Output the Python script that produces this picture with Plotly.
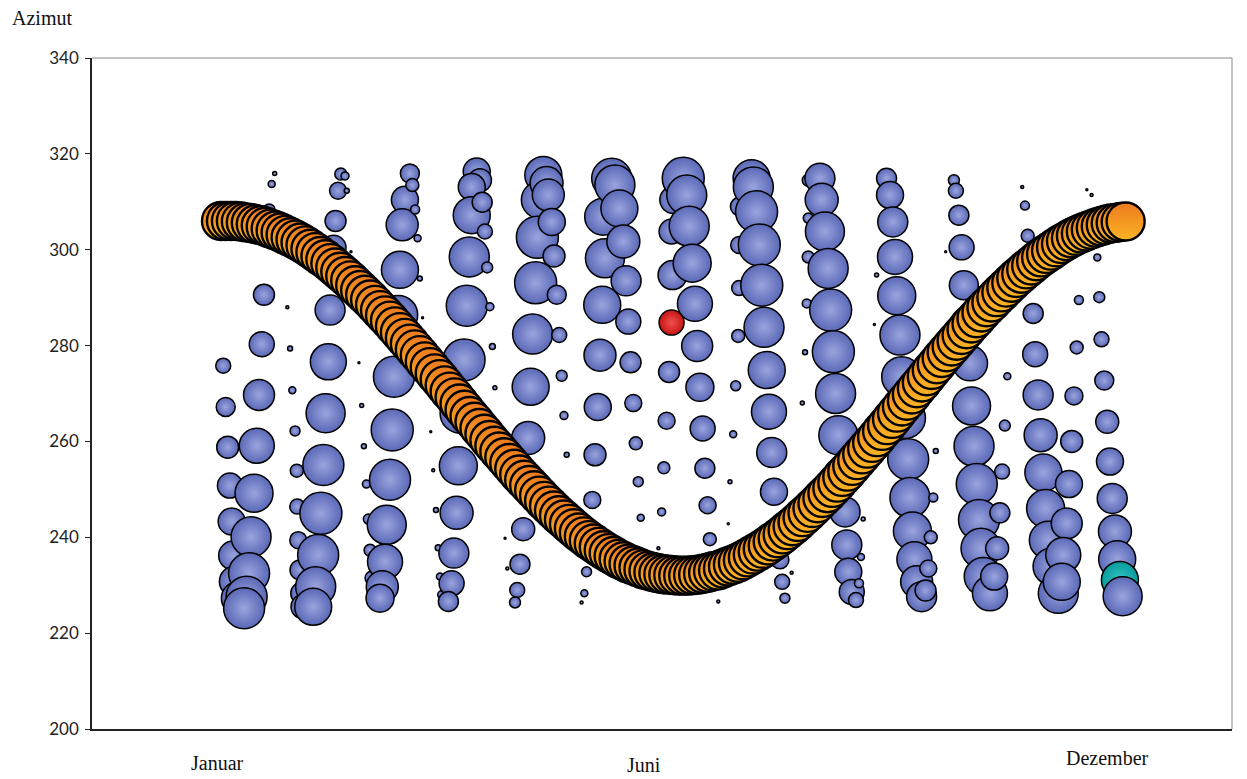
import plotly.graph_objects as go

# ---------------- Daten ----------------
# Sonnenbahn (orange), Azimut alle zwei Tage
bahn_tag = list(range(1, 366, 2))
bahn_azimut = [
    306.0, 306.0, 306.0, 306.0, 305.9, 305.7, 305.6, 305.3, 305.1, 304.8,
    304.4, 304.0, 303.6, 303.1, 302.6, 302.1, 301.5, 300.9, 300.2, 299.5,
    298.7, 298.0, 297.2, 296.3, 295.4, 294.5, 293.6, 292.6, 291.6, 290.6,
    289.6, 288.5, 287.4, 286.3, 285.2, 284.0, 282.8, 281.6, 280.4, 279.2,
    278.0, 276.7, 275.5, 274.2, 273.0, 271.7, 270.4, 269.2, 267.9, 266.6,
    265.3, 264.1, 262.8, 261.6, 260.3, 259.1, 257.9, 256.7, 255.5, 254.3,
    253.1, 252.0, 250.9, 249.8, 248.7, 247.6, 246.6, 245.6, 244.6, 243.7,
    242.8, 241.9, 241.0, 240.2, 239.4, 238.7, 238.0, 237.3, 236.7, 236.1,
    235.5, 235.0, 234.5, 234.1, 233.7, 233.3, 233.0, 232.7, 232.5, 232.3,
    232.2, 232.1, 232.0, 232.0, 232.0, 232.1, 232.2, 232.4, 232.6, 232.9,
    233.1, 233.5, 233.9, 234.3, 234.7, 235.2, 235.8, 236.4, 237.0, 237.6,
    238.3, 239.1, 239.8, 240.6, 241.5, 242.3, 243.2, 244.2, 245.1, 246.1,
    247.1, 248.2, 249.2, 250.3, 251.4, 252.6, 253.7, 254.9, 256.1, 257.3,
    258.5, 259.7, 260.9, 262.2, 263.4, 264.7, 266.0, 267.3, 268.5, 269.8,
    271.1, 272.3, 273.6, 274.9, 276.1, 277.4, 278.6, 279.8, 281.0, 282.2,
    283.4, 284.6, 285.7, 286.9, 288.0, 289.0, 290.1, 291.1, 292.1, 293.1,
    294.1, 295.0, 295.9, 296.7, 297.6, 298.4, 299.1, 299.8, 300.5, 301.2,
    301.8, 302.4, 302.9, 303.4, 303.8, 304.2, 304.6, 304.9, 305.2, 305.5,
    305.6, 305.8, 305.9,
]
bahn_wert = 38

# Blaue Blasen: (Tag, Azimut, Wert)
jan_a = [(1.9, 275.8, 15), (2.9, 267.2, 19), (3.7, 258.8, 22), (4.6, 250.8, 25),
         (5.3, 243.3, 27), (5.9, 236.2, 29), (6.6, 230.8, 31), (7.8, 227.3, 33)]
jan_b = [(22.6, 315.9, 4), (21.4, 313.7, 7), (20.4, 308.3, 12), (18.3, 290.6, 21),
         (17.4, 280.3, 25), (16.3, 269.7, 31), (15.4, 259.1, 35), (14.3, 249.2, 38),
         (13.1, 240.1, 40), (12.3, 232.5, 41), (11.3, 227.6, 41), (10.3, 225.2, 41)]
jan_c = [(27.7, 288.0, 3), (28.8, 279.4, 5), (29.7, 270.7, 7), (30.8, 262.2, 10),
         (31.5, 253.9, 13), (31.7, 246.4, 15), (32.1, 239.4, 17), (32.8, 233.2, 20),
         (33.5, 228.3, 22), (34.0, 225.5, 24)]
feb_a = [(49.2, 315.8, 12), (50.9, 315.4, 8), (48.1, 312.3, 17), (51.6, 312.3, 5),
         (47.1, 306.0, 21), (46.3, 300.4, 25), (44.9, 287.4, 30), (44.2, 276.6, 36),
         (43.1, 265.9, 39), (42.2, 255.1, 41), (41.2, 245.0, 42), (40.1, 236.3, 41),
         (39.1, 229.7, 40), (38.1, 225.5, 37)]
feb_b = [(56.5, 276.4, 2), (57.6, 267.5, 4), (58.5, 259.0, 5), (59.5, 251.1, 8),
         (60.3, 243.8, 10), (61.0, 237.3, 12), (61.8, 231.5, 14), (62.6, 227.5, 15)]
mrz_a = [(75.0, 310.4, 27), (73.9, 305.2, 32), (73.0, 295.8, 37), (72.3, 286.4, 39),
         (70.6, 273.5, 41), (69.9, 262.4, 42), (69.0, 252.0, 41), (67.7, 242.6, 39),
         (67.0, 234.9, 35), (65.9, 229.7, 32), (65.0, 227.3, 28)]
mrz_b = [(77.0, 315.9, 19), (78.0, 313.5, 13), (79.1, 308.4, 9), (80.1, 302.4, 7),
         (81.0, 294.0, 5), (82.1, 285.8, 2)]
mrz_c = [(85.4, 262.0, 2), (86.4, 254.0, 3), (87.5, 245.7, 5), (88.4, 237.8, 6),
         (89.1, 231.8, 7), (89.8, 228.0, 8)]
apr_a = [(103.9, 316.3, 27), (105.2, 314.5, 23), (101.9, 313.1, 27), (101.9, 307.2, 37),
         (100.9, 298.5, 40), (99.9, 288.3, 41), (98.8, 277.0, 42), (97.2, 265.9, 40),
         (96.5, 254.9, 38), (95.8, 245.1, 33), (94.7, 236.7, 30), (93.8, 230.4, 25),
         (92.5, 226.6, 20)]
apr_b = [(106.1, 309.9, 20), (107.2, 303.8, 15), (108.1, 296.3, 11), (109.2, 288.1, 8),
         (110.2, 279.8, 6), (111.2, 271.2, 4)]
mai_a = [(130.7, 315.6, 37), (129.3, 310.4, 37), (128.3, 302.6, 42), (127.6, 293.1, 42),
         (126.4, 282.4, 40), (125.6, 271.4, 37), (124.6, 260.7, 33), (123.6, 251.3, 28),
         (122.6, 241.7, 23), (121.3, 234.4, 20), (120.2, 229.0, 15), (119.3, 226.4, 11)]
mai_b = [(132.0, 313.9, 33), (132.7, 311.4, 32), (134.1, 305.8, 27), (135.0, 298.7, 22),
         (136.1, 290.6, 19), (137.1, 282.2, 15), (138.1, 273.7, 11), (139.0, 265.4, 8),
         (140.1, 257.2, 5)]
jun_a = [(158.2, 314.9, 40), (154.8, 306.9, 37), (155.5, 298.2, 39), (154.4, 288.5, 37),
         (153.5, 278.0, 32), (152.6, 267.2, 27), (151.5, 257.2, 22), (150.4, 247.8, 17),
         (149.1, 240.1, 14), (148.1, 232.8, 10), (147.2, 228.3, 7)]
jun_b = [(159.5, 313.5, 40), (161.3, 308.6, 37), (162.9, 301.7, 33), (164.0, 293.5, 30),
         (164.9, 285.0, 25), (165.8, 276.5, 21), (166.9, 268.0, 17), (167.9, 259.6, 13),
         (168.9, 251.6, 10), (169.9, 244.1, 7)]
jul_a = [(183.0, 310.4, 27), (182.3, 303.8, 25), (182.7, 294.7, 29),
         (181.3, 274.5, 21), (180.3, 264.3, 17), (179.2, 254.5, 12), (178.3, 245.3, 8),
         (177.0, 237.7, 3)]
jul_rot = [(182.3, 284.8, 25)]
jul_b = [(187.0, 314.9, 42), (188.4, 311.4, 40), (189.4, 304.9, 40), (190.6, 297.2, 38),
         (191.7, 288.7, 35), (192.6, 279.9, 31), (193.7, 271.3, 28), (194.8, 262.7, 25),
         (195.7, 254.4, 20), (196.8, 246.7, 17), (197.7, 239.6, 13)]
aug_a = [(209.8, 309.0, 19), (209.5, 301.0, 17), (209.5, 292.0, 15), (209.1, 282.0, 13),
         (208.1, 271.6, 10), (207.1, 261.5, 7), (205.8, 251.6, 4)]
aug_b = [(214.5, 314.9, 37), (215.2, 313.1, 40), (216.5, 307.9, 42), (217.6, 301.0, 42),
         (218.6, 292.6, 42), (219.5, 283.8, 40), (220.6, 274.9, 37), (221.5, 266.2, 35),
         (222.6, 257.7, 30), (223.5, 249.5, 27), (224.7, 241.5, 22), (225.9, 235.3, 18),
         (226.8, 230.7, 15), (227.9, 227.3, 10)]
sep_a = [(237.3, 314.5, 12), (237.3, 306.6, 10), (237.3, 298.5, 12), (236.7, 288.8, 9),
         (236.0, 278.6, 5), (234.9, 268.0, 4)]
sep_b = [(242.0, 314.9, 30), (242.7, 310.4, 33), (244.0, 303.8, 39), (245.3, 296.1, 40),
         (246.3, 287.4, 42), (247.4, 278.7, 42), (248.3, 270.0, 40), (249.4, 261.3, 39),
         (250.9, 253.0, 36), (252.1, 245.3, 30), (252.8, 238.4, 30), (253.4, 232.8, 27),
         (254.8, 228.6, 25), (256.5, 226.9, 15)]
sep_c = [(259.4, 243.8, 4), (258.5, 235.9, 7), (257.7, 230.4, 9)]
okt_a = [(268.8, 314.9, 20), (270.2, 311.4, 27), (271.3, 305.8, 30), (272.2, 298.5, 35),
         (272.9, 290.4, 38), (274.2, 282.2, 40), (274.9, 273.5, 40), (276.2, 264.9, 41),
         (277.5, 256.3, 41), (278.2, 248.3, 40), (279.2, 241.3, 38), (280.0, 235.4, 35),
         (280.9, 230.7, 32), (282.9, 227.6, 30)]
okt_b = [(288.6, 258.0, 5), (287.6, 248.3, 9), (286.6, 240.0, 13), (285.6, 233.5, 17),
         (284.5, 228.9, 21)]
nov_a = [(295.9, 314.5, 11), (296.7, 312.3, 15), (297.9, 307.2, 20), (299.0, 300.5, 25),
         (299.9, 292.6, 29), (301.0, 284.6, 32), (302.4, 276.3, 35), (303.0, 267.4, 38),
         (304.0, 259.0, 40), (305.1, 251.1, 41), (306.0, 243.6, 41), (306.8, 237.7, 40),
         (307.7, 231.8, 38), (310.4, 228.3, 35)]
nov_b = [(317.4, 273.6, 7), (316.4, 263.3, 11), (315.3, 253.7, 15), (314.4, 245.1, 20),
         (313.3, 237.7, 23), (312.1, 231.8, 27)]
dez_a = [(323.4, 313.1, 3), (324.5, 309.2, 9), (325.6, 302.9, 13), (326.5, 294.7, 17),
         (327.8, 286.7, 20), (328.6, 278.2, 25), (329.8, 269.7, 30), (330.8, 261.3, 33),
         (331.9, 253.5, 37), (332.8, 246.0, 38), (333.9, 239.4, 38), (335.2, 233.9, 37),
         (337.9, 228.3, 40)]
dez_b = [(346.2, 289.5, 9), (345.3, 279.6, 13), (344.2, 269.5, 18), (343.3, 260.0, 22),
         (342.2, 251.1, 27), (341.3, 242.9, 31), (339.9, 236.3, 35), (339.3, 230.7, 37)]
dez_c = [(351.3, 311.4, 3), (353.6, 298.4, 7), (354.4, 290.1, 11), (355.3, 281.3, 15),
         (356.4, 272.7, 19), (357.6, 264.1, 23), (358.7, 255.8, 27), (359.6, 248.1, 30),
         (360.7, 241.2, 33), (361.6, 235.4, 37)]
dez_tuerkis = [(362.7, 231.1, 37)]
dez_d = [(363.8, 227.7, 39)]
punkte = [(53.3, 299.6, 2), (115.3, 239.8, 2), (116.2, 233.5, 3), (146.1, 226.4, 3),
          (201.1, 226.6, 3), (205.1, 242.8, 2), (230.6, 232.6, 3), (292.6, 299.6, 2),
          (263.9, 284.4, 2), (264.8, 294.7, 4), (349.4, 312.5, 2)]

monat_text = ["Januar", "Juni", "Dezember"]
monat_tag = [-0.6, 171.2, 357.9]
y_ticks = [200, 220, 240, 260, 280, 300, 320, 340]

# ---------------- Grafik ----------------
SERIF = "Liberation Serif, Times New Roman, serif"
SANS = "Lato, Open Sans, sans-serif"

fig = go.Figure()

BLAU = ("#5a68b6", "#9aa4de")
ROT = ("#c81414", "#f25050")
TUERKIS = ("#079a9c", "#35c6c6")


def gruppe(pts, farbe=BLAU):
    fig.add_trace(go.Scatter(
        x=[p[0] for p in pts], y=[p[1] for p in pts], mode="markers",
        marker=dict(size=[p[2] for p in pts], color=farbe[0],
                    gradient=dict(type="radial", color=farbe[1]),
                    line=dict(color="black", width=1.5), opacity=1),
        hoverinfo="skip", showlegend=False))


for g in [jan_a, jan_b, jan_c, feb_a, feb_b, mrz_a, mrz_b, mrz_c, apr_a, apr_b,
          mai_a, mai_b, jun_a, jun_b, jul_a]:
    gruppe(g)
gruppe(jul_rot, ROT)
for g in [jul_b, aug_a, aug_b, sep_a, sep_b, sep_c, okt_a, okt_b, nov_a, nov_b,
          dez_a, dez_b, dez_c]:
    gruppe(g)
gruppe(dez_tuerkis, TUERKIS)
gruppe(dez_d)
gruppe(punkte)

fig.add_trace(go.Scatter(
    x=bahn_tag, y=bahn_azimut, mode="markers",
    marker=dict(size=bahn_wert, color="#ec7a1e",
                gradient=dict(type="vertical", color="#fcb424"),
                line=dict(color="black", width=2.4), opacity=1),
    hoverinfo="skip", showlegend=False))

for t, x, ys in zip(monat_text, monat_tag, [-34, -36, -29]):
    fig.add_annotation(x=x, xref="x", y=0, yref="paper", yshift=ys, text=t,
                       showarrow=False, xanchor="center", yanchor="middle",
                       font=dict(family=SERIF, size=20, color="#111"))
fig.add_annotation(x=-0.0439, xref="paper", y=1.0596, yref="paper", text="Azimut",
                   showarrow=False, xanchor="center", yanchor="middle",
                   font=dict(family=SERIF, size=20, color="#111"))

# Rahmen oben / rechts
fig.add_shape(type="line", xref="paper", yref="paper", x0=0, x1=1, y0=1, y1=1,
              line=dict(color="#8a8a8a", width=1))
fig.add_shape(type="line", xref="paper", yref="paper", x0=1, x1=1, y0=0, y1=1,
              line=dict(color="#8a8a8a", width=1))

fig.update_layout(
    width=1247, height=779,
    margin=dict(l=92, r=15, t=58, b=50),
    plot_bgcolor="white", paper_bgcolor="white",
    xaxis=dict(range=[-50.9, 407.8], showgrid=False, zeroline=False,
               showticklabels=False, ticks="", showline=True,
               linecolor="#222", linewidth=1.5),
    yaxis=dict(range=[200, 340], tickvals=y_ticks, showgrid=False, zeroline=False,
               ticks="outside", ticklen=5, tickcolor="#222", tickwidth=1,
               showline=True, linecolor="#222", linewidth=1.5,
               ticklabelstandoff=3,
               tickfont=dict(family=SANS, size=17, color="#222")),
)

fig.write_html("out.html", config={"displayModeBar": False},
               post_script="document.body.style.margin='0';")
